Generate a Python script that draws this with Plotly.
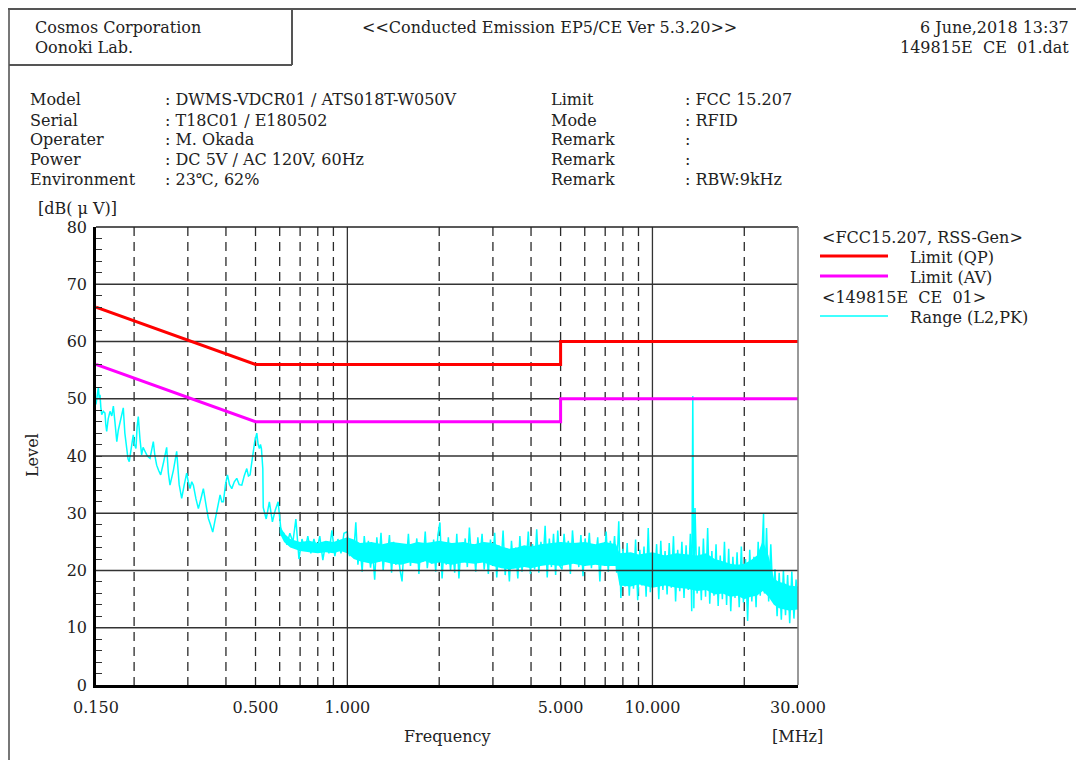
import plotly.graph_objects as go

# ---------------- data ----------------
qp_freq = [0.15, 0.5, 5.0, 5.0, 30.0]
qp_level = [66.0, 56.0, 56.0, 60.0, 60.0]
av_freq = [0.15, 0.5, 5.0, 5.0, 30.0]
av_level = [56.0, 46.0, 46.0, 50.0, 50.0]

trace_freq = [
    # 0.15 - 0.53 MHz
    0.150, 0.1515, 0.1527, 0.1537, 0.1546, 0.1556, 0.1566, 0.1585, 0.1605, 0.1615,
    0.1626, 0.1645, 0.1667, 0.1690, 0.1710, 0.1730, 0.1755, 0.1775, 0.1798, 0.1820,
    0.1843, 0.1865, 0.1890, 0.1910, 0.1928, 0.1955, 0.1987, 0.2005, 0.2028, 0.2045,
    0.2064, 0.2090, 0.2117, 0.2140, 0.2171, 0.2210, 0.2255, 0.2285, 0.2312, 0.2340,
    0.2371, 0.2405, 0.2444, 0.2500, 0.2557, 0.2590, 0.2622, 0.2690, 0.2758, 0.2810,
    0.2864, 0.2920, 0.2974, 0.3010, 0.3050, 0.3090, 0.3128, 0.3190, 0.3248, 0.3310,
    0.3373, 0.3440, 0.3502, 0.3560, 0.3620, 0.3675, 0.3731, 0.3780, 0.3827, 0.3875,
    0.3924, 0.3985, 0.4045, 0.4110, 0.4180, 0.4260, 0.4340, 0.4420, 0.4508, 0.4590,
    0.4681, 0.4740, 0.4800, 0.4850, 0.4898, 0.4970, 0.5048, 0.5100, 0.5150, 0.5190,
    0.5228, 0.5283,
    # 0.53 - 1.0 MHz
    0.530, 0.542, 0.555, 0.568, 0.580, 0.593, 0.606, 0.620, 0.634, 0.648,
    0.663, 0.678, 0.694, 0.710, 0.726, 0.742, 0.759, 0.777, 0.794, 0.812,
    0.831, 0.850, 0.870, 0.890, 0.910, 0.931, 0.953, 0.975,
    # 1.0 - 5.0 MHz
    1.000, 1.016, 1.032, 1.049, 1.066, 1.083, 1.100, 1.118, 1.136, 1.154,
    1.172, 1.191, 1.210, 1.229, 1.249, 1.269, 1.289, 1.310, 1.331, 1.352,
    1.374, 1.396, 1.418, 1.441, 1.464, 1.487, 1.511, 1.535, 1.560, 1.585,
    1.610, 1.636, 1.662, 1.689, 1.716, 1.743, 1.771, 1.800, 1.828, 1.858,
    1.887, 1.918, 1.948, 1.980, 2.011, 2.044, 2.076, 2.110, 2.143, 2.178,
    2.213, 2.248, 2.284, 2.321, 2.358, 2.395, 2.434, 2.473, 2.512, 2.553,
    2.593, 2.635, 2.677, 2.720, 2.764, 2.808, 2.853, 2.898, 2.945, 2.992,
    3.040, 3.088, 3.138, 3.188, 3.239, 3.291, 3.343, 3.397, 3.451, 3.506,
    3.563, 3.620, 3.677, 3.736, 3.796, 3.857, 3.918, 3.981, 4.045, 4.109,
    4.175, 4.242, 4.310, 4.379, 4.449, 4.520, 4.592, 4.666, 4.740, 4.816,
    4.893, 4.972,
    # 5.0 - 30 MHz
    5.052, 5.133, 5.215, 5.299, 5.383, 5.469, 5.557, 5.646, 5.736, 5.828,
    5.921, 6.016, 6.112, 6.210, 6.309, 6.410, 6.513, 6.617, 6.723, 6.830,
    6.940, 7.051, 7.164, 7.278, 7.395, 7.513, 7.633, 7.755, 7.880, 8.006,
    8.134, 8.264, 8.396, 8.531, 8.667, 8.806, 8.947, 9.090, 9.235, 9.383,
    9.533, 9.686, 9.841, 9.998, 10.16, 10.32, 10.49, 10.65, 10.82, 11.00,
    11.17, 11.35, 11.53, 11.72, 11.91, 12.10, 12.29, 12.49, 12.69, 12.89,
    13.10, 13.31, 13.45, 13.56, 13.67, 13.79, 14.01, 14.23, 14.46, 14.69,
    14.93, 15.17, 15.41, 15.66, 15.91, 16.16, 16.42, 16.68, 16.95, 17.22,
    17.50, 17.78, 18.06, 18.35, 18.65, 18.94, 19.25, 19.56, 19.87, 20.19,
    20.51, 20.84, 21.17, 21.51, 21.86, 22.21, 22.56, 22.92, 23.13, 23.29,
    23.66, 24.04, 24.43, 24.82, 25.22, 25.62, 26.03, 26.45, 26.87, 27.30,
    27.74, 28.18, 28.63, 29.09, 29.56, 30.00,
]
trace_level = [
    # 0.15 - 0.53 MHz
    49.0, 50.5, 52.0, 50.0, 50.7, 48.5, 47.2, 47.8, 47.5, 45.5,
    44.3, 46.5, 47.8, 47.0, 48.7, 46.0, 42.5, 44.5, 46.0, 47.5,
    48.4, 44.0, 40.8, 39.5, 39.0, 41.5, 43.7, 42.0, 41.3, 45.0,
    46.9, 43.0, 40.2, 41.5, 40.8, 40.0, 39.6, 41.0, 42.5, 40.0,
    38.4, 37.5, 36.7, 39.0, 41.5, 37.0, 34.9, 37.5, 40.8, 35.0,
    32.6, 35.0, 37.0, 35.5, 34.3, 35.5, 34.9, 32.5, 30.8, 32.5,
    34.3, 31.5, 29.1, 28.0, 26.7, 28.5, 30.2, 32.0, 33.2, 32.0,
    32.0, 35.0, 36.7, 35.0, 34.3, 35.5, 36.1, 35.0, 34.9, 36.5,
    37.8, 36.5, 36.7, 38.5, 40.2, 42.5, 44.0, 42.0, 41.3, 42.0,
    41.3, 37.8,
    # 0.53 - 1.0 MHz
    31.0, 29.0, 32.0, 28.5, 30.5, 32.0, 27.0, 26.5, 24.5, 26.5,
    25.0, 29.0, 22.0, 25.5, 23.5, 26.0, 23.0, 25.5, 23.5, 26.0,
    21.8, 25.0, 23.0, 27.0, 22.5, 25.5, 23.0, 26.5,
    # 1.0 - 5.0 MHz
    26.8, 22.5, 25.0, 23.0, 28.4, 21.0, 24.5, 19.8, 26.0, 22.0,
    25.2, 20.5, 23.5, 18.4, 25.8, 21.5, 26.6, 20.0, 24.0, 22.2,
    26.2, 19.6, 25.0, 21.0, 23.8, 20.2, 18.1, 24.6, 21.4, 26.4,
    20.8, 24.2, 22.0, 25.6, 19.4, 24.8, 21.6, 26.8, 20.4, 23.6,
    21.2, 25.4, 19.8, 26.2, 28.4, 18.6, 24.4, 21.0, 25.8, 20.0,
    23.8, 19.6, 26.4, 18.6, 24.2, 21.4, 25.6, 20.6, 27.5, 21.8,
    24.6, 19.8, 25.8, 22.0, 26.4, 20.2, 24.0, 19.4, 25.4, 21.2,
    26.6, 18.8, 24.4, 20.6, 27.0, 19.2, 23.8, 18.1, 25.2, 20.4,
    24.0, 18.6, 26.0, 19.8, 23.6, 21.0, 26.8, 19.4, 24.6, 20.2,
    27.2, 19.6, 25.0, 21.4, 27.8, 18.8, 25.6, 20.6, 26.4, 19.2,
    27.0, 20.8,
    # 5.0 - 30 MHz
    20.2, 26.4, 21.6, 25.2, 19.4, 27.0, 22.0, 24.8, 20.6, 26.2,
    19.0, 25.6, 21.8, 26.6, 20.4, 24.6, 22.2, 25.8, 18.1, 24.4,
    21.0, 26.8, 19.8, 25.2, 21.6, 26.0, 19.6, 28.6, 15.2, 23.8,
    17.2, 24.8, 15.6, 22.8, 16.8, 25.4, 14.8, 23.6, 17.4, 24.2,
    15.4, 27.4, 16.2, 23.0, 17.6, 24.6, 15.0, 25.2, 16.6, 23.4,
    15.8, 24.8, 17.0, 26.0, 14.6, 23.6, 16.4, 25.0, 15.2, 24.4,
    16.6, 26.4, 12.9, 50.5, 13.4, 30.9, 16.0, 24.2, 14.8, 25.6,
    15.4, 27.4, 14.2, 23.4, 15.6, 24.6, 13.8, 22.6, 15.0, 25.0,
    14.0, 23.8, 12.9, 22.4, 15.2, 23.2, 13.6, 24.2, 14.4, 22.0,
    11.2, 23.6, 14.6, 22.4, 13.6, 25.0, 15.6, 26.9, 29.9, 16.0,
    27.4, 14.6, 24.6, 15.4, 20.2, 12.0, 19.6, 11.4, 20.0, 12.2,
    19.2, 10.8, 19.8, 11.6, 18.4, 14.0,
]

# dense core of the noise band (lower / upper edge)
band_freq = [0.60, 0.62, 0.65, 0.70, 0.75, 0.80, 0.85, 0.90, 0.95, 1.0,
             1.05, 1.1, 1.2, 1.3, 1.4, 1.5, 1.6, 1.7, 1.8, 1.9,
             2.0, 2.2, 2.4, 2.6, 2.8, 3.0, 3.2, 3.4, 3.6, 3.8,
             4.0, 4.3, 4.6, 5.0, 5.5, 6.0, 6.5, 7.0, 7.6, 7.8,
             8.5, 9.0, 10.0, 11.0, 12.0, 13.0, 14.0, 15.0, 16.0, 17.0,
             18.0, 19.0, 20.0, 21.0, 22.0, 23.0, 24.0, 25.0, 26.0, 27.0,
             28.0, 30.0]
band_low = [26.5, 25.0, 24.0, 23.4, 23.2, 23.0, 23.2, 23.0, 23.4, 23.0,
            22.0, 21.6, 21.2, 21.6, 21.2, 21.0, 21.4, 21.2, 21.6, 21.2,
            21.4, 21.0, 21.4, 21.2, 21.4, 20.8, 20.4, 20.2, 20.4, 20.6,
            20.4, 20.8, 21.0, 20.8, 21.2, 20.8, 21.0, 20.8, 20.8, 17.4,
            17.2, 17.6, 17.0, 17.4, 17.0, 16.8, 16.4, 16.6, 15.8, 16.0,
            15.4, 15.6, 15.0, 15.4, 15.6, 16.4, 15.4, 14.0, 13.4, 13.2,
            13.0, 13.2]
band_high = [28.0, 26.5, 25.5, 25.0, 25.2, 24.8, 25.2, 25.0, 25.4, 25.8,
             25.4, 24.8, 25.0, 24.6, 25.0, 24.8, 24.6, 25.0, 24.8, 25.0,
             25.2, 24.8, 25.0, 24.6, 25.0, 24.8, 24.2, 23.8, 24.0, 24.4,
             24.2, 24.6, 24.8, 25.0, 24.8, 25.0, 24.6, 25.0, 24.6, 23.0,
             23.2, 22.8, 23.2, 22.6, 23.0, 22.8, 22.6, 23.0, 22.0, 21.6,
             21.2, 21.0, 21.2, 21.8, 22.6, 25.2, 22.6, 18.6, 18.0, 17.8,
             17.4, 17.2]

x_tick_vals = [0.15, 0.5, 1.0, 5.0, 10.0, 30.0]
x_tick_text = ["0.150", "0.500", "1.000", "5.000", "10.000", "30.000"]
y_tick_vals = [0, 10, 20, 30, 40, 50, 60, 70, 80]
grid_solid_freq = [1.0, 10.0]
grid_dashed_freq = [0.2, 0.3, 0.4, 0.5, 0.6, 0.7, 0.8, 0.9, 2.0, 3.0, 4.0, 5.0,
                    6.0, 7.0, 8.0, 9.0, 20.0]
grid_levels = [10, 20, 30, 40, 50, 60, 70]
y_min, y_max = 0, 80
x_min, x_max = 0.15, 30.0

info_left_labels = ["Model", "Serial", "Operater", "Power", "Environment"]
info_left_values = [": DWMS-VDCR01 / ATS018T-W050V", ": T18C01 / E180502", ": M. Okada",
                    ": DC 5V / AC 120V, 60Hz", ": 23℃, 62%"]
info_right_labels = ["Limit", "Mode", "Remark", "Remark", "Remark"]
info_right_values = [": FCC 15.207", ": RFID", ":", ":", ": RBW:9kHz"]

# ---------------- layout helpers ----------------
PAGE_OFF = 8                     # page body margin of the browser
W, H = 1084 - PAGE_OFF, 760 - PAGE_OFF
L, R, T, B = 96, 798, 227, 685   # plot box in screenshot pixels
FONT = "DejaVu Serif"
TXT = "#222222"


def X(px):
    return (px - L) / (R - L)


def Y(py):
    return (B - py) / (B - T)


fig = go.Figure()

# dashed frequency grid (underneath the data)
dx, dy = [], []
for f in grid_dashed_freq:
    dx += [f, f, None]
    dy += [y_max, y_min, None]
fig.add_trace(go.Scatter(x=dx, y=dy, mode="lines",
                         line=dict(color="#2a2a2a", width=1.3, dash="9px,6px"),
                         showlegend=False, hoverinfo="skip"))

# band core
fig.add_trace(go.Scatter(x=band_freq, y=band_low, mode="lines", line=dict(width=0, color="#00ffff"),
                         showlegend=False, hoverinfo="skip"))
fig.add_trace(go.Scatter(x=band_freq, y=band_high, mode="lines", line=dict(width=0, color="#00ffff"),
                         fill="tonexty", fillcolor="#00ffff", showlegend=False, hoverinfo="skip"))
# trace
fig.add_trace(go.Scatter(x=trace_freq, y=trace_level, mode="lines",
                         line=dict(color="#00ffff", width=1.5), name="Range (L2,PK)",
                         showlegend=False))

# solid grid lines drawn on top of data
hx, hy = [], []
for lv in grid_levels:
    hx += [x_min, x_max, None]
    hy += [lv, lv, None]
fig.add_trace(go.Scatter(x=hx, y=hy, mode="lines", line=dict(color="#333333", width=1.3),
                         showlegend=False, hoverinfo="skip"))
sx, sy = [], []
for f in grid_solid_freq:
    sx += [f, f, None]
    sy += [y_min, y_max, None]
fig.add_trace(go.Scatter(x=sx, y=sy, mode="lines", line=dict(color="#333333", width=1.3),
                         showlegend=False, hoverinfo="skip"))

# limits
fig.add_trace(go.Scatter(x=qp_freq, y=qp_level, mode="lines", line=dict(color="#ff0000", width=3),
                         name="Limit (QP)", showlegend=False))
fig.add_trace(go.Scatter(x=av_freq, y=av_level, mode="lines", line=dict(color="#ff00ff", width=3),
                         name="Limit (AV)", showlegend=False))

ann = []


def txt(px, py, s, anchor="left", size=16, angle=0):
    ann.append(dict(x=X(px), y=Y(py), xref="paper", yref="paper", text=s, showarrow=False,
                    xanchor=anchor, yanchor="middle", textangle=angle,
                    font=dict(family=FONT, size=size, color=TXT)))


txt(33, 27, "Cosmos Corporation")
txt(33, 47, "Oonoki Lab.")
txt(549, 27, "&lt;&lt;Conducted Emission EP5/CE Ver 5.3.20&gt;&gt;", anchor="center")
txt(1071, 27, "6 June,2018 13:37", anchor="right")
txt(1071, 47, "149815E  CE  01.dat", anchor="right")
rows = [100, 120, 139, 159, 180]
for i, py in enumerate(rows):
    txt(28, py, info_left_labels[i])
    txt(163, py, info_left_values[i])
    txt(549, py, info_right_labels[i])
    txt(683, py, info_right_values[i])
txt(36, 208, "[dB( μ V)]")
txt(32, 455, "Level", anchor="center", angle=-90)
txt(447, 736, "Frequency", anchor="center")
txt(797, 736, "[MHz]", anchor="center")

# legend
txt(820, 237, "&lt;FCC15.207, RSS-Gen&gt;")
txt(908, 257, "Limit (QP)")
txt(908, 277, "Limit (AV)")
txt(820, 297, "&lt;149815E  CE  01&gt;")
txt(908, 317, "Range (L2,PK)")

shapes = []


def hline(x0, x1, py, color, width):
    shapes.append(dict(type="line", xref="paper", yref="paper", x0=X(x0), x1=X(x1), y0=Y(py), y1=Y(py),
                       line=dict(color=color, width=width)))


def vline(px, y0, y1, color, width):
    shapes.append(dict(type="line", xref="paper", yref="paper", x0=X(px), x1=X(px), y0=Y(y0), y1=Y(y1),
                       line=dict(color=color, width=width)))


hline(820, 888, 256, "#ff0000", 3)
hline(820, 888, 276, "#ff00ff", 3)
hline(820, 888, 316, "#00ffff", 1.5)
# page frame
vline(9, 8, 760, "#777777", 2)
hline(8, 1084, 9, "#555555", 2)
vline(292, 9, 65, "#555555", 2)
hline(9, 292, 65, "#555555", 2)
# plot frame (top / right)
hline(L, R, T, "#222222", 1.3)
vline(R, T, B, "#777777", 1.5)

axis_font = dict(family=FONT, size=16, color=TXT)
fig.update_layout(
    width=W, height=H,
    margin=dict(l=L - PAGE_OFF, r=W - (R - PAGE_OFF), t=T - PAGE_OFF, b=H - (B - PAGE_OFF),
                autoexpand=False),
    paper_bgcolor="white", plot_bgcolor="white",
    showlegend=False,
    annotations=ann, shapes=shapes,
    xaxis=dict(type="log", range=[-0.8239, 1.4771], tickvals=x_tick_vals, ticktext=x_tick_text,
               showgrid=False, zeroline=False, showline=True, linecolor="#000000", linewidth=2.5,
               ticks="", tickfont=axis_font, ticklabelstandoff=6, layer="above traces"),
    yaxis=dict(range=[y_min, y_max], tickvals=y_tick_vals, showgrid=False, zeroline=False,
               showline=True, linecolor="#000000", linewidth=2.5, ticks="inside", ticklen=6,
               tickcolor="#333333", tickfont=axis_font, ticklabelstandoff=3, layer="above traces",
               minor=dict(dtick=2, ticks="inside", ticklen=6, tickcolor="#333333", showgrid=False)),
)

fig.write_html("out.html", config={"displayModeBar": False})
